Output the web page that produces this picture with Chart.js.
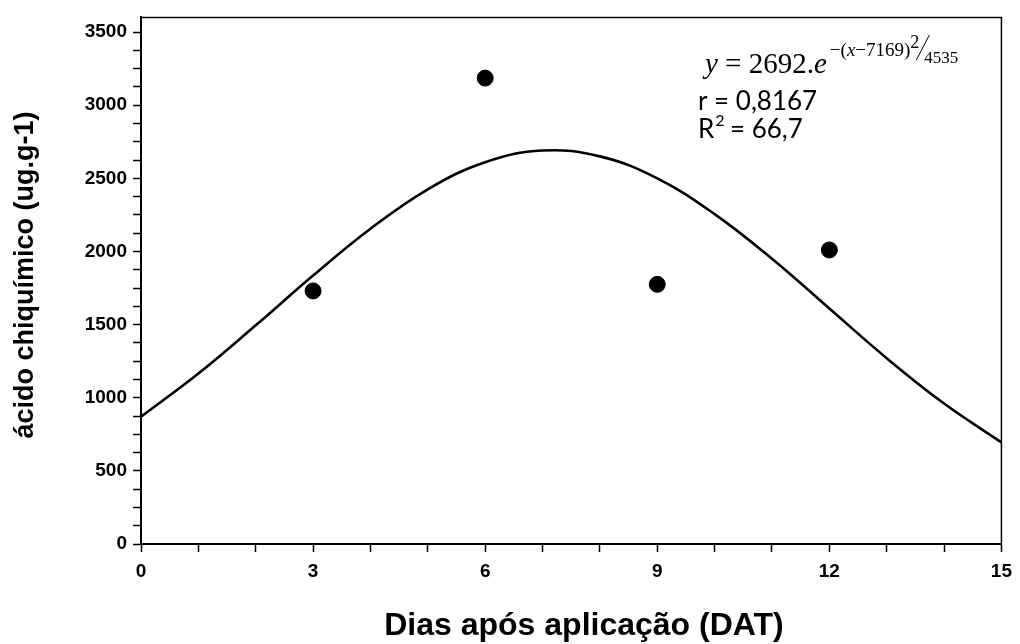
<!DOCTYPE html>
<html lang="pt">
<head>
<meta charset="utf-8">
<title>Ácido chiquímico x dias após aplicação</title>
<script src="https://cdn.jsdelivr.net/npm/chart.js@4.4.1/dist/chart.umd.min.js"></script>
<style>
  html, body { margin: 0; padding: 0; background: #fff; }
  #wrap { width: 1020px; height: 644px; position: relative; }
</style>
</head>
<body>
<div id="wrap"><canvas id="grafico" width="1020" height="644"></canvas></div>
<script>
/* dados */
const DIAS = [0, 1, 2, 3, 4, 5, 6, 7, 8, 9, 10, 11, 12, 13, 14, 15];
const CURVA = [870, 1165, 1495, 1835, 2155, 2425, 2610, 2690, 2650, 2500, 2255, 1950, 1610, 1270, 960, 695];
const DIAS_OBS = [3, 6, 9, 12];
const ACIDO_OBS = [1730, 3185, 1775, 2010];
const X_TICKS = [0, 3, 6, 9, 12, 15];
const Y_TICKS = [0, 500, 1000, 1500, 2000, 2500, 3000, 3500];

const FONTE = '"Liberation Sans", Arial, sans-serif';
const SERIF = '"Liberation Serif", "Times New Roman", serif';

// moldura (topo e direita) + títulos dos eixos + equação
const extras = {
  id: "extras",
  afterDraw(chart) {
    const { ctx, chartArea: a } = chart;
    ctx.save();
    ctx.strokeStyle = "#000";
    ctx.lineWidth = 1.5;
    ctx.beginPath();
    ctx.moveTo(a.left, a.top); ctx.lineTo(a.right, a.top); ctx.lineTo(a.right, a.bottom);
    ctx.stroke();

    ctx.fillStyle = "#000";
    // título eixo x
    ctx.font = "bold 32px " + FONTE;
    ctx.textAlign = "center";
    ctx.textBaseline = "alphabetic";
    ctx.fillText("Dias após aplicação (DAT)", 584, 635);
    // título eixo y
    ctx.save();
    ctx.translate(33, 275);
    ctx.rotate(-Math.PI / 2);
    ctx.font = "bold 27px " + FONTE;
    ctx.fillText("ácido chiquímico (ug.g-1)", 0, 0);
    ctx.restore();

    // equação
    ctx.textAlign = "left";
    let x = 705;
    const pedaco = (txt, font, y) => { ctx.font = font; ctx.fillText(txt, x, y); x += ctx.measureText(txt).width; };
    pedaco("y", "italic 29px " + SERIF, 73);
    pedaco(" = 2692.", "29px " + SERIF, 73);
    pedaco("e", "italic 29px " + SERIF, 73);
    x += 3;
    pedaco("−(", "19px " + SERIF, 56);
    pedaco("x", "italic 19px " + SERIF, 56);
    pedaco("−7169)", "19px " + SERIF, 56);
    pedaco("2", "18px " + SERIF, 48);
    ctx.lineWidth = 1;
    ctx.beginPath(); ctx.moveTo(x - 3, 60); ctx.lineTo(x + 10, 35); ctx.stroke();
    x += 5;
    pedaco("4535", "17px " + SERIF, 63);

    ctx.font = '26px Lato, "Open Sans", sans-serif';
    ctx.fillText("r = 0,8167", 698, 110);
    ctx.fillText("R", 698, 138);
    const wR = ctx.measureText("R").width;
    ctx.font = '16px Lato, "Open Sans", sans-serif';
    ctx.fillText("2", 698 + wR + 1, 126);
    ctx.font = '26px Lato, "Open Sans", sans-serif';
    ctx.fillText(" = 66,7", 698 + wR + 9, 138);
    ctx.restore();
  },
};

new Chart(document.getElementById("grafico"), {
  type: "scatter",
  data: {
    datasets: [
      {
        type: "line",
        data: DIAS.map((d, i) => ({ x: d, y: CURVA[i] })),
        borderColor: "#000", borderWidth: 2.6, tension: 0.4,
        pointRadius: 0, fill: false,
      },
      {
        data: DIAS_OBS.map((d, i) => ({ x: d, y: ACIDO_OBS[i] })),
        backgroundColor: "#000", borderColor: "#000", pointRadius: 8, pointHoverRadius: 8,
      },
    ],
  },
  options: {
    responsive: false, animation: false, devicePixelRatio: 1,
    layout: { padding: { top: 13, right: 14, left: 0, bottom: 0 } },
    plugins: { legend: { display: false }, tooltip: { enabled: false } },
    scales: {
      x: {
        type: "linear", min: 0, max: 15,
        afterFit: (s) => { s.height = 100; },
        border: { display: true, color: "#000", width: 2 },
        grid: { drawOnChartArea: false, drawTicks: true, tickLength: 8, tickWidth: 1.5, tickColor: "#000" },
        ticks: {
          stepSize: 1, autoSkip: false, maxRotation: 0, padding: 8, color: "#000",
          font: { family: FONTE, size: 19, weight: "bold" },
          callback: (v) => (X_TICKS.includes(v) ? v : ""),
        },
      },
      y: {
        min: 0, max: 3600,
        afterFit: (s) => { s.width = 141; },
        afterBuildTicks: (s) => { s.ticks = s.ticks.filter((t) => t.value % 125 === 0 && t.value <= 3500); },
        border: { display: true, color: "#000", width: 2 },
        grid: { drawOnChartArea: false, drawTicks: true, tickLength: 8, tickWidth: 1.5, tickColor: "#000" },
        ticks: {
          stepSize: 125, includeBounds: false, autoSkip: false, padding: 6, color: "#000",
          font: { family: FONTE, size: 19, weight: "bold" },
          callback: (v) => (Y_TICKS.includes(v) ? v : ""),
        },
      },
    },
  },
  plugins: [extras],
});
</script>
</body>
</html>
